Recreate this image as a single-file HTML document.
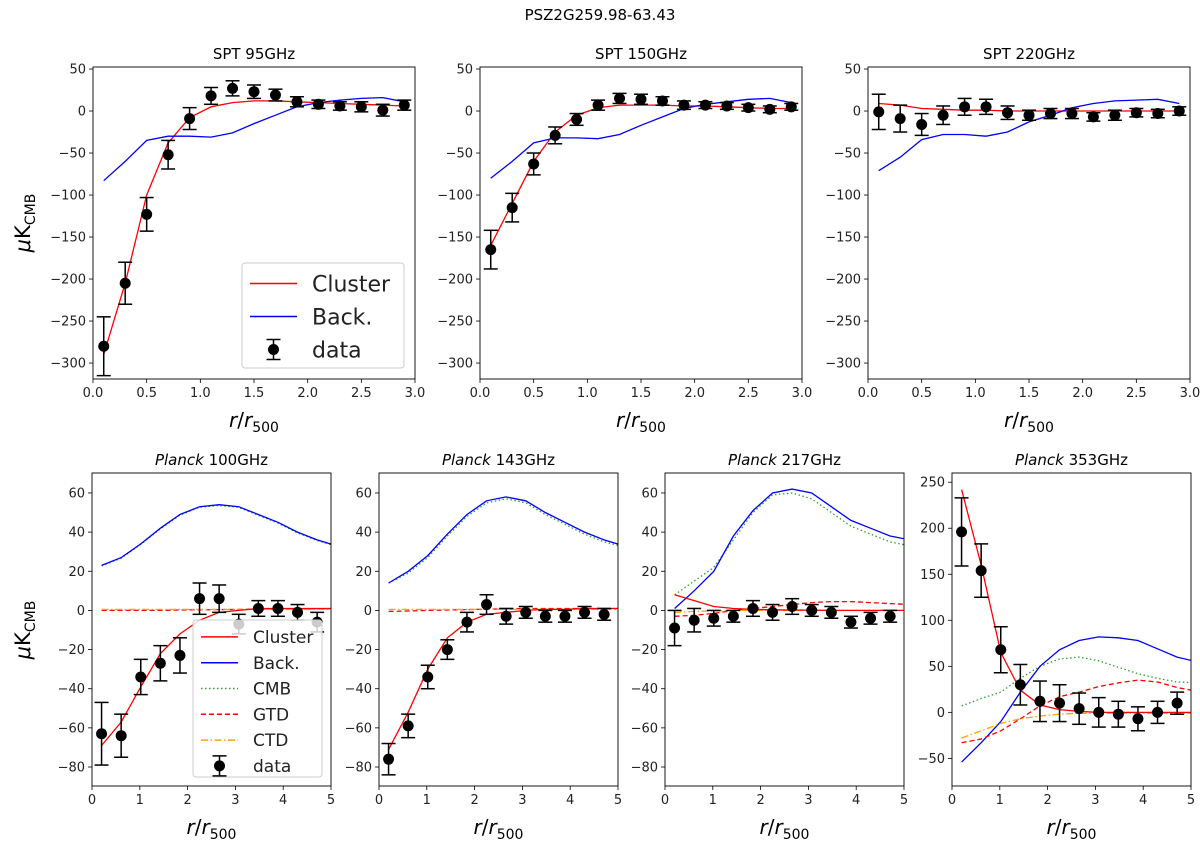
<!DOCTYPE html>
<html><head><meta charset="utf-8"><style>
body{margin:0;background:#fff}
svg{display:block;font-family:"DejaVu Sans","Liberation Sans",sans-serif}
</style></head><body>
<svg id="fig" width="1200" height="844" viewBox="0 0 1200 844" xmlns="http://www.w3.org/2000/svg">
<text x="600" y="20" text-anchor="middle" font-size="15">PSZ2G259.98-63.43</text>
</svg>
<script>
// ---- data ----
const sptX = [0.1,0.3,0.5,0.7,0.9,1.1,1.3,1.5,1.7,1.9,2.1,2.3,2.5,2.7,2.9];
const spt95Data = [-280,-205,-123,-52,-9,18,27,23,19,11,8,6,5,1,7];
const spt95Err = [35,25,20,17,13,10,9,8,7,6,5,5,6,7,6];
const spt95Cluster = [-290,-205,-100,-38,-8,5,10,12,12,11,10,9,8,7,6];
const spt95Back = [-83,-60,-35,-30,-30,-31,-26,-15,-5,5,10,13,15,16,11];
const spt150Data = [-165,-115,-63,-29,-10,7,15,14,12,7,7,6,4,2,5];
const spt150Err = [23,17,13,10,7,6,6,6,5,5,4,4,4,4,4];
const spt150Cluster = [-160,-110,-60,-25,-5,4,7,7,7,6,6,5,4,3,3];
const spt150Back = [-80,-60,-38,-32,-32,-33,-28,-17,-7,3,8,11,14,15,10];
const spt220Data = [-1,-9,-16,-5,5,5,-2,-5,-3,-3,-7,-5,-2,-3,0];
const spt220Err = [21,16,13,11,10,9,8,6,6,6,5,6,5,5,5];
const spt220Cluster = [9,7,3,2,1,1,0,0,0,0,0,0,0,0,0];
const spt220Back = [-71,-55,-34,-28,-28,-30,-25,-13,-5,4,9,12,13,14,9];

const plX = [0.2,0.61,1.02,1.43,1.84,2.25,2.66,3.07,3.48,3.89,4.3,4.71];
const plModelX = [0.2,0.61,1.02,1.43,1.84,2.25,2.66,3.07,3.48,3.89,4.3,4.71,5.12];
const p100Data = [-63,-64,-34,-27,-23,6,6,-7,1,1,-1,-6];
const p100Err = [16,11,9,9,9,8,7,5,4,4,4,5];
const p100Cluster = [-69,-57,-39,-22,-12,-5,-1,0,1,1,1,1,1];
const p100Back = [23,27,34,42,49,53,54,53,49,45,40,36,33];
const p100Cmb = [22.7,26.7,33.7,41.7,48.7,52.7,53.6,52.7,48.6,44.6,39.6,35.7,32.7];
const p100Gtd = [0,0,0,0,0.2,0.3,0.4,0.5,0.6,0.7,0.8,0.9,1];
const p100Ctd = [0.5,0.5,0.5,0.5,0.5,0.5,0.5,0.5,0.5,0.5,0.5,0.5,0.5];
const p143Data = [-76,-59,-34,-20,-6,3,-3,-1,-3,-3,-1,-2];
const p143Err = [8,6,6,5,5,5,4,3,3,3,3,3];
const p143Cluster = [-71,-52,-30,-14,-6,-2,-1,0,0.5,0.5,1,1,1];
const p143Back = [14,20,28,39,49,56,58,56,50,45,40,36,33];
const p143Cmb = [14,19,27,38,48,55,57,55,49,44,39,35,32.5];
const p143Gtd = [-0.5,-0.3,0,0.2,0.4,0.6,0.8,1,1,1,1,1,1];
const p143Ctd = [0.5,0.5,0.5,0.5,0.5,0.5,0.5,0.5,0.5,0.5,0.5,0.5,0.5];
const p217Data = [-9,-5,-4,-3,1,-1,2,0,-1,-6,-4,-3];
const p217Err = [9,6,4,3,4,4,4,3,3,3,3,3];
const p217Cluster = [8,5,2,1,0.5,0.3,0.2,0.1,0,0,0,0,0];
const p217Back = [1,10,20,38,51,60,62,60,53,46,42,38,36];
const p217Cmb = [8,15,22,36,50,59,60,57,50,43,39,35,33];
const p217Gtd = [-3,-2.5,-1.5,0,1,2,3,4,4.5,4.5,4,3.5,3];
const p217Ctd = [-1,-0.5,-0.3,0,0,0,0,0,0,0,0,0,0];
const p353Data = [196,154,68,30,12,10,4,0,-2,-7,0,10];
const p353Err = [37,29,25,22,22,20,17,16,14,13,12,12];
const p353Cluster = [242,160,65,24,8,3,1,0,0,0,0,0,0];
const p353Back = [-54,-33,-10,22,50,68,78,82,81,78,69,60,55];
const p353Cmb = [7,15,22,37,50,58,60,56,49,42,37,33,32];
const p353Gtd = [-33,-29,-20,-7,7,17,22,28,32,35,33,27,23];
const p353Ctd = [-28,-20,-12,-7,-4,-2,-1,-1,-1,-1,-1,-1,-1];

const sptTicksX = ["0.0","0.5","1.0","1.5","2.0","2.5","3.0"];
const sptTicksY = [50,0,-50,-100,-150,-200,-250,-300];
const plTicksX = ["0","1","2","3","4","5"];
const plTicksY = [60,40,20,0,-20,-40,-60,-80];
const p353TicksY = [250,200,150,100,50,0,-50];

const NS="http://www.w3.org/2000/svg";
const fig=document.getElementById('fig');
function mk(tag,attrs,parent){const e=document.createElementNS(NS,tag);for(const k in attrs)e.setAttribute(k,attrs[k]);(parent||fig).appendChild(e);return e;}
function fmtNeg(v){return String(v).replace('-','\u2212');}

let pid=0;
function panel(o){
  pid++;
  const g=mk('g',{});
  
  
  const L=o.x0,R=o.x1,T=o.y0,B=o.y1;
  const sx=v=>L+(v-o.xmin)/(o.xmax-o.xmin)*(R-L);
  const sy=v=>B-(v-o.ymin)/(o.ymax-o.ymin)*(B-T);
  const cp=mk('clipPath',{id:'c'+pid},g);mk('rect',{x:L,y:T,width:R-L,height:B-T},cp);
  const pg=mk('g',{'clip-path':'url(#c'+pid+')'},g);
  // title
  const t=mk('text',{x:(L+R)/2,y:T-8,'text-anchor':'middle','font-size':15},g);
  
  
  if(o.italic){const s=mk('tspan',{'font-style':'italic'},t);s.textContent=o.italic;const s2=mk('tspan',{},t);s2.textContent=' '+o.title;}
  else t.textContent=o.title;
  // ticks
  o.ticksX.forEach(lab=>{const v=parseFloat(lab),x=sx(v);
    mk('line',{x1:x,x2:x,y1:B,y2:B+4,stroke:'#000','stroke-width':0.8},g);
    const tt=mk('text',{x:x,y:B+18,'text-anchor':'middle','font-size':13,fill:'#222'},g);tt.textContent=lab;
    
    });
  o.ticksY.forEach(v=>{const y=sy(v);
    mk('line',{x1:L-4,x2:L,y1:y,y2:y,stroke:'#000','stroke-width':0.8},g);
    const tt=mk('text',{x:L-7,y:y+4.5,'text-anchor':'end','font-size':13,fill:'#222'},g);tt.textContent=fmtNeg(v);
    
    });
  // xlabel
  const xl=mk('text',{x:(L+R)/2,y:B+48,'text-anchor':'middle','font-size':20},g);
  
  
  xl.innerHTML='<tspan font-style="italic">r</tspan>/<tspan font-style="italic">r</tspan><tspan font-size="14" dy="5">500</tspan>';
  // lines
  o.lines.forEach(ln=>{
    const pts=o.mx.map((x,i)=>sx(x).toFixed(1)+','+sy(ln.v[i]).toFixed(1)).join(' ');
    const p=mk('polyline',{points:pts,fill:'none',stroke:ln.c,'stroke-width':1.3},pg);
    if(ln.dash)p.setAttribute('stroke-dasharray',ln.dash);
    
    
  });
  // data
  o.dx.forEach((x,i)=>{
    const X=sx(x),v=o.d[i],e=o.e[i];
    const eg=mk('g',{},pg);
    
    
    mk('line',{x1:X,x2:X,y1:sy(v-e),y2:sy(v+e),stroke:'#000','stroke-width':1.5},eg);
    mk('line',{x1:X-7,x2:X+7,y1:sy(v-e),y2:sy(v-e),stroke:'#000','stroke-width':1.5},eg);
    mk('line',{x1:X-7,x2:X+7,y1:sy(v+e),y2:sy(v+e),stroke:'#000','stroke-width':1.5},eg);
    mk('circle',{cx:X,cy:sy(v),r:5.5,fill:'#000'},eg);
  });
  mk('rect',{x:L,y:T,width:R-L,height:B-T,fill:'none',stroke:'#000','stroke-width':0.9},g);
  return g;
}
function legend(x,y,w,h,step,fs,items,lineL){
  const g=mk('g',{});
  
  
  mk('rect',{x:x,y:y,width:w,height:h,rx:3,fill:'#fff','fill-opacity':0.8,stroke:'#ccc','stroke-width':1},g);
  items.forEach((it,i)=>{
    const cy=y+step*(i+0.5)+4;
    const eg=mk('g',{},g);
    
    
    if(it.c){const l=mk('line',{x1:x+8,x2:x+8+lineL,y1:cy,y2:cy,stroke:it.c,'stroke-width':1.5},eg);if(it.dash)l.setAttribute('stroke-dasharray',it.dash);}
    else{const cx=x+8+lineL/2;mk('line',{x1:cx,x2:cx,y1:cy-10,y2:cy+10,stroke:'#000','stroke-width':1.5},eg);
      mk('line',{x1:cx-7,x2:cx+7,y1:cy-10,y2:cy-10,stroke:'#000','stroke-width':1.5},eg);
      mk('line',{x1:cx-7,x2:cx+7,y1:cy+10,y2:cy+10,stroke:'#000','stroke-width':1.5},eg);
      mk('circle',{cx:cx,cy:cy,r:5.5,fill:'#000'},eg);}
    const t=mk('text',{x:x+8+lineL+15,y:cy+fs*0.36,'font-size':fs,fill:'#222'},eg);t.textContent=it.t;
  });
}
const sptBase={xmin:0,xmax:3,ymin:-319,ymax:52.4,y0:67,y1:379,ticksX:sptTicksX,ticksY:sptTicksY,mx:sptX,dx:sptX};
panel(Object.assign({},sptBase,{name:'panel-spt-95',title:'SPT 95GHz',x0:93,x1:415,d:spt95Data,e:spt95Err,
  lines:[{n:'cluster',c:'#ff0000',v:spt95Cluster},{n:'back',c:'#0000ff',v:spt95Back}]}));
panel(Object.assign({},sptBase,{name:'panel-spt-150',title:'SPT 150GHz',x0:480,x1:802,d:spt150Data,e:spt150Err,
  lines:[{n:'cluster',c:'#ff0000',v:spt150Cluster},{n:'back',c:'#0000ff',v:spt150Back}]}));
panel(Object.assign({},sptBase,{name:'panel-spt-220',title:'SPT 220GHz',x0:868,x1:1190,d:spt220Data,e:spt220Err,
  lines:[{n:'cluster',c:'#ff0000',v:spt220Cluster},{n:'back',c:'#0000ff',v:spt220Back}]}));
legend(242,263,162,105,33,22,[{t:'Cluster',c:'#ff0000'},{t:'Back.',c:'#0000ff'},{t:'data'}],47);

function plLines(cl,bk,cm,gt,ct){return [
  {n:'cmb',c:'#2ca02c',v:cm,dash:'1.5 2.5'},
  {n:'back',c:'#0000ff',v:bk},
  {n:'gtd',c:'#ff0000',v:gt,dash:'5 3'},
  {n:'ctd',c:'#ffa500',v:ct,dash:'7 2.5 1.5 2.5'},
  {n:'cluster',c:'#ff0000',v:cl}];}
const plBase={xmin:0,xmax:5,ymin:-89.7,ymax:70.2,y0:473,y1:786,ticksX:plTicksX,ticksY:plTicksY,mx:plModelX,dx:plX};
panel(Object.assign({},plBase,{name:'panel-planck-100',italic:'Planck',title:'100GHz',x0:92,x1:331,d:p100Data,e:p100Err,
  lines:plLines(p100Cluster,p100Back,p100Cmb,p100Gtd,p100Ctd)}));
panel(Object.assign({},plBase,{name:'panel-planck-143',italic:'Planck',title:'143GHz',x0:379,x1:618,d:p143Data,e:p143Err,
  lines:plLines(p143Cluster,p143Back,p143Cmb,p143Gtd,p143Ctd)}));
panel(Object.assign({},plBase,{name:'panel-planck-217',italic:'Planck',title:'217GHz',x0:665,x1:904,d:p217Data,e:p217Err,
  lines:plLines(p217Cluster,p217Back,p217Cmb,p217Gtd,p217Ctd)}));
panel(Object.assign({},plBase,{name:'panel-planck-353',italic:'Planck',title:'353GHz',x0:952,x1:1191,ymin:-80,ymax:260,ticksY:p353TicksY,d:p353Data,e:p353Err,
  lines:plLines(p353Cluster,p353Back,p353Cmb,p353Gtd,p353Ctd)}));
legend(193,620,129,157,25.8,17,[{t:'Cluster',c:'#ff0000'},{t:'Back.',c:'#0000ff'},{t:'CMB',c:'#2ca02c',dash:'1.5 2.5'},{t:'GTD',c:'#ff0000',dash:'5 3'},{t:'CTD',c:'#ffa500',dash:'7 2.5 1.5 2.5'},{t:'data'}],37);

// y-axis titles
[[30,223],[30,630]].forEach(p=>{
  const t=mk('text',{x:0,y:0,'font-size':21,'text-anchor':'middle',transform:`translate(${p[0]},${p[1]}) rotate(-90)`});
  
  
  t.innerHTML='<tspan font-style="italic">μ</tspan>K<tspan font-size="14" dy="5">CMB</tspan>';
});
</script>
</body></html>
